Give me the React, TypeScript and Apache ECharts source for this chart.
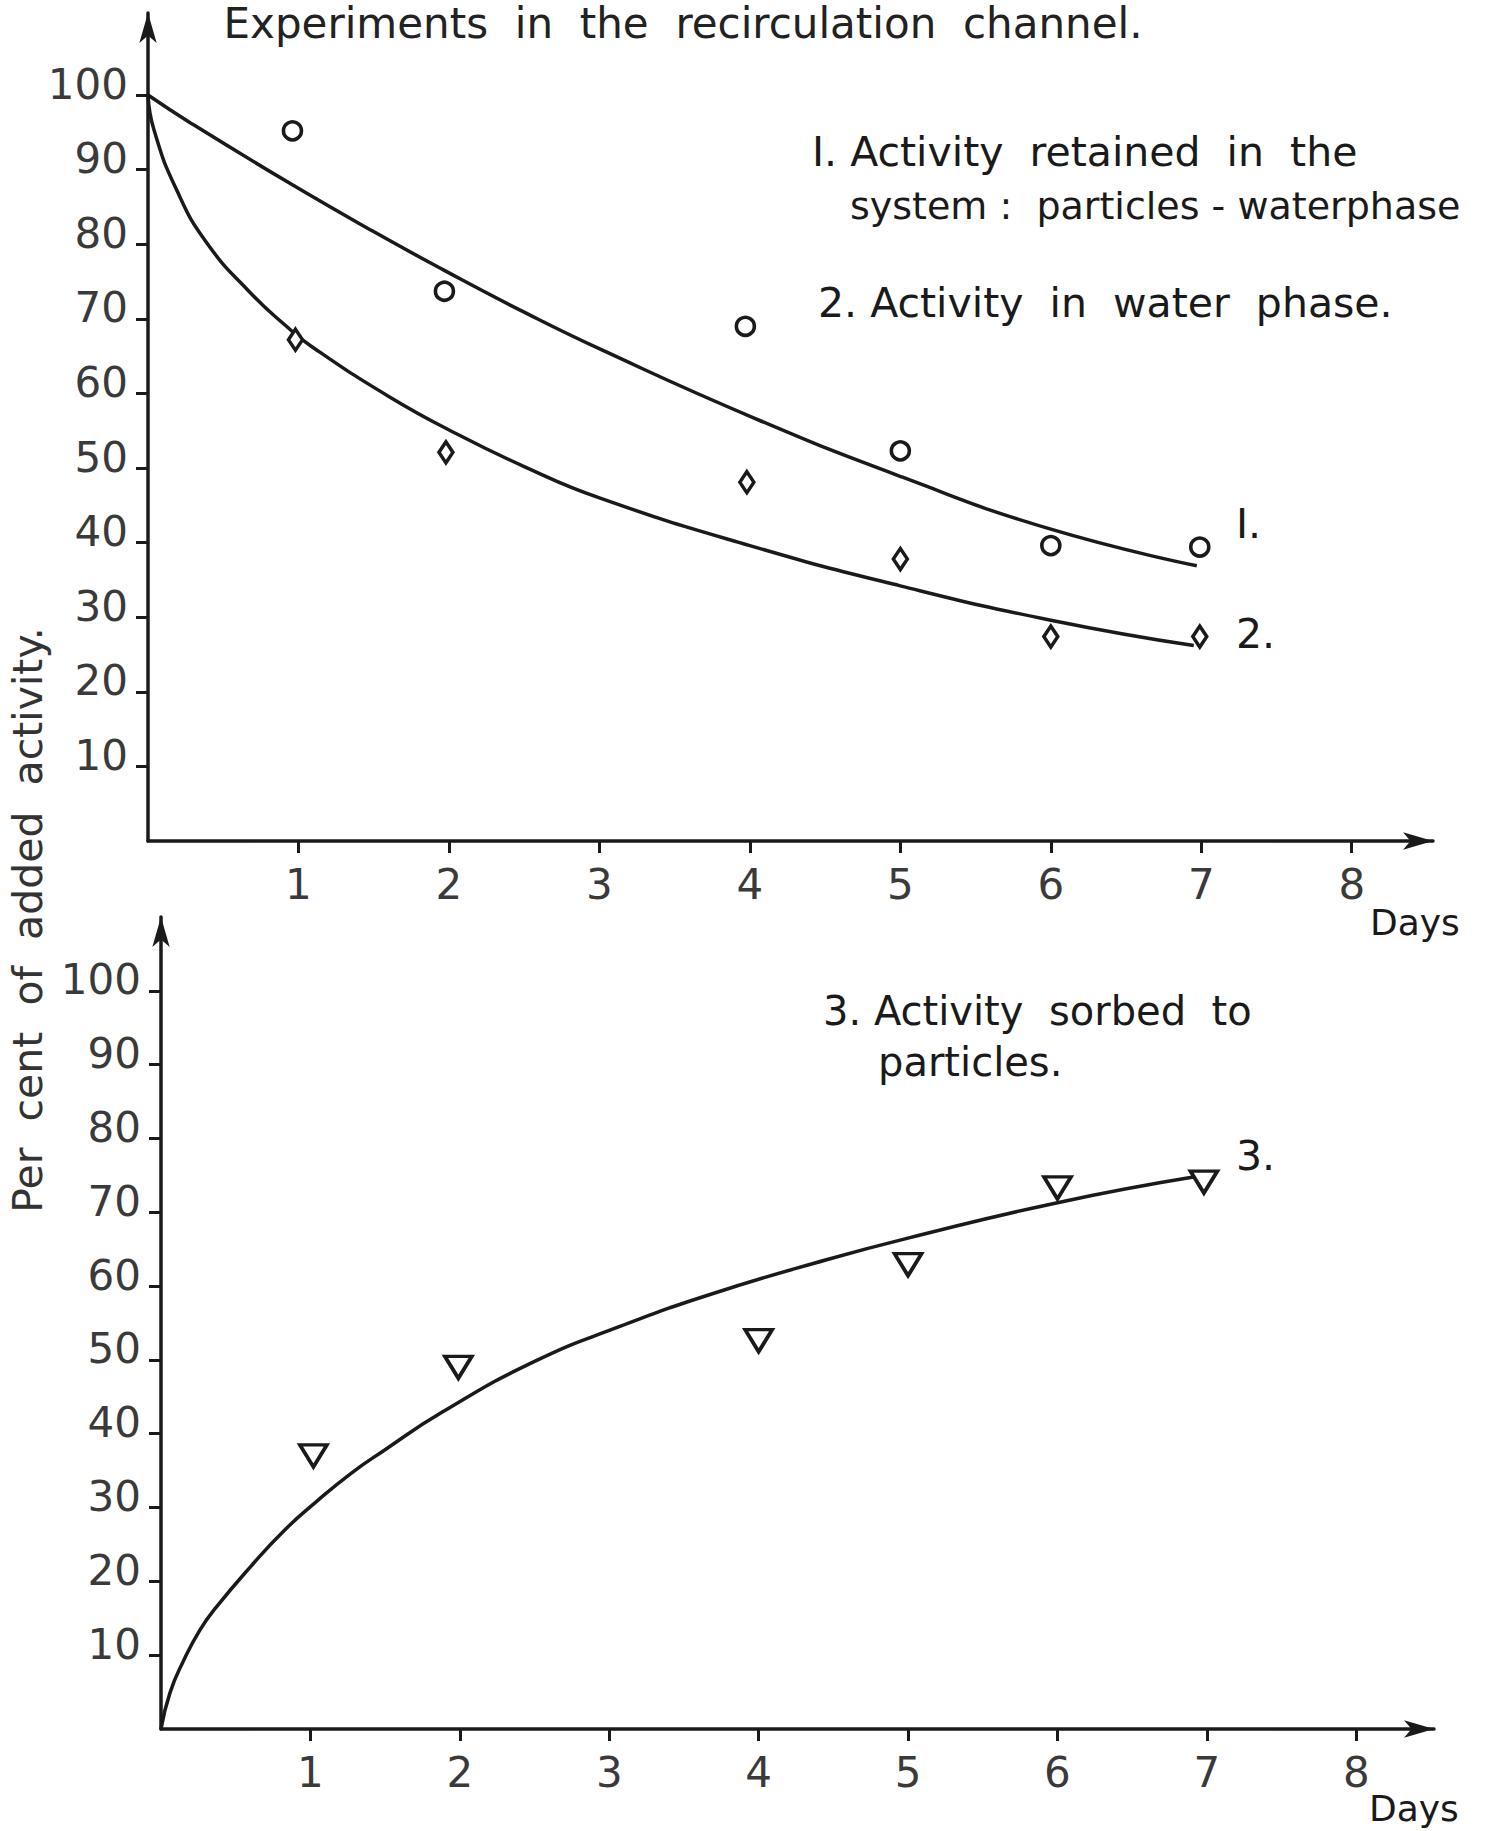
import React, { useEffect, useRef } from "react";
import * as echarts from "echarts";

// ---- data ----
const xTickValues = [1, 2, 3, 4, 5, 6, 7, 8];
const yTickValues = [10, 20, 30, 40, 50, 60, 70, 80, 90, 100];

// Series 1: activity retained in the system (circles)
const points1: [number, number][] = [
  [0.96, 95.2], [1.97, 73.7], [3.97, 69.0], [5.0, 52.3], [6.0, 39.6], [6.99, 39.4],
];
// fitted curve 1
const curve1: [number, number][] = [
  [0, 100], [0.28, 96.3], [0.94, 88.2], [1.49, 81.8], [1.96, 76.6], [2.49, 71.0],
  [3.02, 65.8], [4.04, 56.6], [5.01, 48.8], [6.0, 41.8], [6.97, 36.9],
];

// Series 2: activity in water phase (diamonds)
const points2: [number, number][] = [
  [0.98, 67.2], [1.98, 52.1], [3.98, 48.1], [5.0, 37.8], [6.0, 27.4], [6.99, 27.4],
];
const curve2: [number, number][] = [
  [0, 100], [0.04, 95.3], [0.19, 87.3], [0.39, 80.2], [0.68, 73.5], [0.92, 69.0],
  [1.08, 66.4], [1.6, 59.6], [2.05, 54.6], [2.5, 50.2], [3.0, 46.0], [4.0, 39.6],
  [5.0, 34.2], [6.0, 29.6], [6.95, 26.2],
];

// Series 3: activity sorbed to particles (inverted triangles)
const points3: [number, number][] = [
  [1.02, 37.0], [1.99, 49.0], [4.0, 52.6], [5.0, 62.9], [6.0, 73.3], [6.98, 74.1],
];
const curve3: [number, number][] = [
  [0, 0], [0.06, 4.9], [0.15, 9.2], [0.26, 13.4], [0.37, 16.5], [0.6, 22.0],
  [0.82, 26.8], [1.04, 30.8], [1.27, 34.6], [1.49, 37.7], [1.88, 42.9],
  [2.49, 49.7], [3.08, 54.6], [3.68, 58.9], [4.46, 63.6], [5.0, 66.5], [6.0, 71.3],
  [6.92, 74.8],
];

const titleText = "Experiments  in  the  recirculation  channel.";
const yAxisTitle = "Per  cent  of  added  activity.";
const legend1a = "I. Activity  retained  in  the";
const legend1b = "system :  particles - waterphase";
const legend2 = "2. Activity  in  water  phase.";
const legend3a = "3. Activity  sorbed  to";
const legend3b = "particles.";
const xAxisName = "Days";

const INK = "#1a1a1a";
const FONT = "DejaVu Sans";

function xAxisCfg(gridIndex: number, max: number) {
  return {
    type: "value",
    gridIndex,
    min: 0,
    max,
    interval: 1,
    splitLine: { show: false },
    axisLine: {
      show: true,
      symbol: ["none", "arrow"],
      symbolSize: [13, 30],
      lineStyle: { color: INK, width: 3.5 },
    },
    axisTick: {
      show: true,
      length: 12,
      customValues: xTickValues,
      lineStyle: { color: INK, width: 3 },
    },
    axisLabel: {
      show: true,
      customValues: xTickValues,
      formatter: (v: number) => (v >= 1 && v <= 8 ? String(v) : ""),
      fontSize: 42,
      fontFamily: FONT,
      color: "#3a3a3a",
      margin: 22,
    },
  };
}

function yAxisCfg(gridIndex: number, max: number) {
  return {
    type: "value",
    gridIndex,
    min: 0,
    max,
    interval: 10,
    splitLine: { show: false },
    axisLine: {
      show: true,
      symbol: ["none", "arrow"],
      symbolSize: [13, 30],
      lineStyle: { color: INK, width: 3.5 },
    },
    axisTick: {
      show: true,
      length: 12,
      customValues: yTickValues,
      lineStyle: { color: INK, width: 3 },
    },
    axisLabel: {
      show: true,
      customValues: yTickValues,
      formatter: (v: number) => (v >= 10 && v <= 100 ? String(v) : ""),
      fontSize: 42,
      fontFamily: FONT,
      color: "#3a3a3a",
      margin: 20,
      verticalAlign: "bottom",
      lineHeight: 22,
    },
  };
}

function curveSeries(data: [number, number][], idx: number) {
  return {
    type: "line",
    xAxisIndex: idx,
    yAxisIndex: idx,
    data,
    smooth: 0.5,
    showSymbol: false,
    symbol: "none",
    lineStyle: { color: INK, width: 3.5 },
    z: 2,
  };
}

function pointSeries(
  data: [number, number][],
  idx: number,
  symbol: string,
  size: number | number[],
  rotate = 0
) {
  return {
    type: "scatter",
    xAxisIndex: idx,
    yAxisIndex: idx,
    data,
    symbol,
    symbolSize: size,
    symbolRotate: rotate,
    itemStyle: { color: "#ffffff", borderColor: INK, borderWidth: 3.6, opacity: 1 },
    z: 3,
  };
}

function txt(text: string, x: number, y: number, fontSize: number) {
  return {
    type: "text",
    x,
    y,
    style: {
      text,
      fontSize,
      fontFamily: FONT,
      fill: "#1a1a1a",
      align: "left",
      verticalAlign: "middle",
    },
  };
}

export default function App() {
  const ref = useRef<HTMLDivElement>(null);
  useEffect(() => {
    document.body.style.margin = "0";
    if (!ref.current) return;
    const chart = echarts.init(ref.current, undefined, { renderer: "svg" });
    const option: any = {
      animation: false,
      backgroundColor: "#ffffff",
      grid: [
        { left: 148, top: 13, width: 1285, height: 828 },
        { left: 161, top: 917, width: 1273, height: 812 },
      ],
      xAxis: [xAxisCfg(0, 8.54), xAxisCfg(1, 8.52)],
      yAxis: [yAxisCfg(0, 111), yAxisCfg(1, 110)],
      series: [
        curveSeries(curve1, 0),
        curveSeries(curve2, 0),
        curveSeries(curve3, 1),
        pointSeries(points1, 0, "circle", 18),
        pointSeries(points2, 0, "diamond", [14, 21]),
        pointSeries(points3, 1, "triangle", [27, 22], 180),
      ],
      graphic: [
        {
          type: "text",
          x: 683,
          y: 2,
          style: {
            text: titleText,
            fontSize: 42,
            fontFamily: FONT,
            fill: "#222",
            align: "center",
            verticalAlign: "top",
          },
        },
        {
          type: "text",
          x: 28,
          y: 920,
          rotation: Math.PI / 2,
          style: {
            text: yAxisTitle,
            fontSize: 41,
            fontFamily: FONT,
            fill: "#333",
            align: "center",
            verticalAlign: "middle",
          },
        },
        txt(legend1a, 812, 152, 41),
        txt(legend1b, 850, 206, 38),
        txt(legend2, 818, 303, 41),
        txt("I.", 1236, 524, 41),
        txt("2.", 1236, 634, 41),
        txt(legend3a, 823, 1011, 40),
        txt(legend3b, 878, 1062, 40),
        txt("3.", 1236, 1156, 41),
        txt(xAxisName, 1370, 922, 36),
        txt(xAxisName, 1369, 1808, 36),
      ],
    };
    chart.setOption(option);
    return () => chart.dispose();
  }, []);
  return <div ref={ref} style={{ width: 1489, height: 1831 }} />;
}
